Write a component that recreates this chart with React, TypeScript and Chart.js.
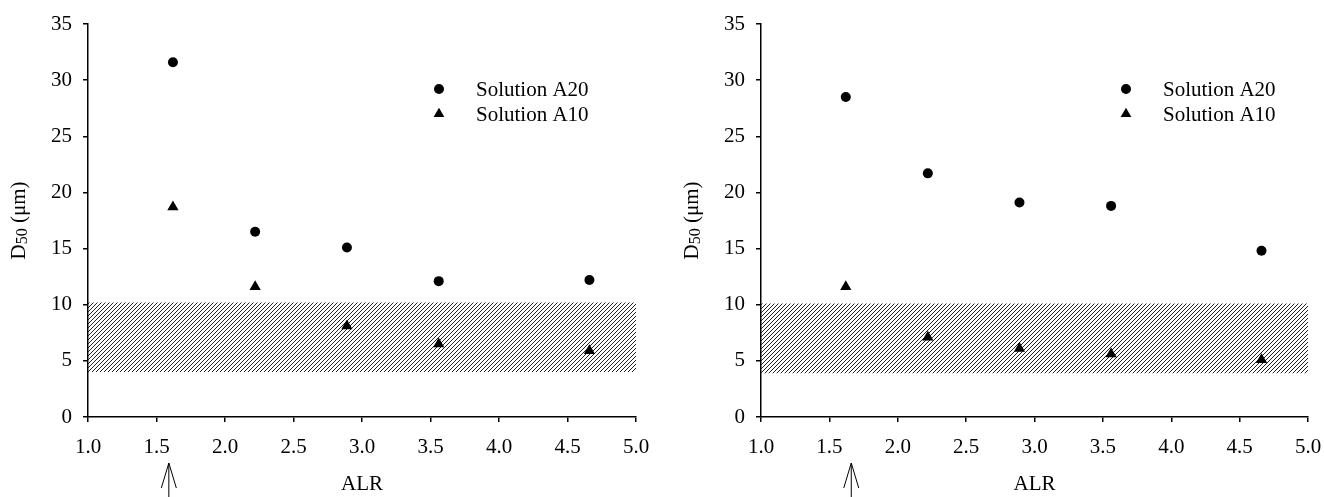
import React, { useEffect, useRef } from "react";
import { Chart, registerables } from "chart.js";

Chart.register(...registerables);

// ---- data ----
const alrValues = [1.62, 2.22, 2.89, 3.56, 4.66];
const seriesLabels = ["Solution A20", "Solution A10"];
const leftA20 = [31.6, 16.5, 15.1, 12.1, 12.2];
const leftA10 = [18.7, 11.6, 8.1, 6.5, 5.9];
const rightA20 = [28.5, 21.7, 19.1, 18.8, 14.8];
const rightA10 = [11.6, 7.1, 6.1, 5.6, 5.1];
const bandLeft = [4.0, 10.2];
const bandRight = [3.9, 10.1];
const arrowAlr = [1.59, 1.66];
const xRange = [1.0, 5.0];
const yRange = [0, 35];
const xTitle = "ALR";

const FONT = "'Liberation Serif', 'Times New Roman', serif";
const FS = 21;

function makeHatch(): CanvasPattern | string {
  const c = document.createElement("canvas");
  c.width = 4;
  c.height = 4;
  const g = c.getContext("2d");
  if (!g) return "#555";
  g.strokeStyle = "#222";
  g.lineWidth = 1;
  g.beginPath();
  g.moveTo(0, 4);
  g.lineTo(4, 0);
  g.moveTo(-1, 1);
  g.lineTo(1, -1);
  g.moveTo(3, 5);
  g.lineTo(5, 3);
  g.stroke();
  const p = g.createPattern(c, "repeat");
  return p || "#555";
}

function extrasPlugin(legendDx: number, arrowValue: number, yTitleDx: number) {
  return {
    id: "extras",
    afterDraw(chart: any) {
      const { ctx, chartArea } = chart;
      ctx.save();
      // y title with subscript
      ctx.translate(chartArea.left - yTitleDx, (chartArea.top + chartArea.bottom) / 2);
      ctx.rotate(-Math.PI / 2);
      ctx.fillStyle = "#000";
      ctx.textBaseline = "middle";
      ctx.textAlign = "left";
      const big = `${FS}px ${FONT}`;
      const small = `16px ${FONT}`;
      ctx.font = big;
      const wD = ctx.measureText("D").width;
      const wRest = ctx.measureText(" (μm)").width;
      ctx.font = small;
      const wSub = ctx.measureText("50").width;
      let x = -(wD + wSub + wRest) / 2;
      ctx.font = big;
      ctx.fillText("D", x, 0);
      x += wD;
      ctx.font = small;
      ctx.fillText("50", x, 4);
      x += wSub;
      ctx.font = big;
      ctx.fillText(" (μm)", x, 0);
      ctx.restore();

      // legend
      ctx.save();
      const lx = chartArea.left + legendDx;
      const ly0 = chartArea.top + 65;
      chart.data.datasets.forEach((ds: any) => {
        if (!ds.legendItem) return;
        const ly = ly0 + (ds.legendIndex as number) * 25;
        ctx.fillStyle = "#000";
        ctx.beginPath();
        if (ds.pointStyle === "triangle") {
          const r = 6.2;
          ctx.moveTo(lx, ly - r);
          ctx.lineTo(lx + r * 0.866, ly + r * 0.5);
          ctx.lineTo(lx - r * 0.866, ly + r * 0.5);
          ctx.closePath();
        } else {
          ctx.arc(lx, ly, 5, 0, Math.PI * 2);
        }
        ctx.fill();
        ctx.font = `${FS}px ${FONT}`;
        ctx.textBaseline = "middle";
        ctx.textAlign = "left";
        ctx.fillText(ds.label, lx + 37, ly + 1);
      });
      ctx.restore();

      // arrow under x axis
      ctx.save();
      const ax = chart.scales.x.getPixelForValue(arrowValue);
      const tipY = chart.height - 34;
      ctx.strokeStyle = "#000";
      ctx.lineWidth = 1;
      ctx.beginPath();
      ctx.moveTo(ax, tipY);
      ctx.lineTo(ax, chart.height);
      ctx.moveTo(ax - 7.5, tipY + 25);
      ctx.lineTo(ax, tipY);
      ctx.lineTo(ax + 7.5, tipY + 25);
      ctx.stroke();
      ctx.restore();
    },
  };
}

function buildConfig(a20: number[], a10: number[], band: number[], yAxisWidth: number, padRight: number) {
  const hatch = makeHatch();
  return {
    type: "scatter" as const,
    data: {
      datasets: [
        {
          label: seriesLabels[0],
          data: alrValues.map((v, i) => ({ x: v, y: a20[i] })),
          pointStyle: "circle",
          pointRadius: 5,
          backgroundColor: "#000",
          borderColor: "#000",
          borderWidth: 0,
          showLine: false,
          order: 0,
          legendItem: true,
          legendIndex: 0,
        },
        {
          label: seriesLabels[1],
          data: alrValues.map((v, i) => ({ x: v, y: a10[i] })),
          pointStyle: "triangle",
          pointRadius: 6.5,
          backgroundColor: "#000",
          borderColor: "#000",
          borderWidth: 0,
          showLine: false,
          order: 0,
          legendItem: true,
          legendIndex: 1,
        },
        {
          label: "band",
          type: "line" as const,
          data: [
            { x: xRange[0], y: band[1] },
            { x: xRange[1], y: band[1] },
          ],
          pointRadius: 0,
          borderWidth: 0,
          borderColor: "rgba(0,0,0,0)",
          backgroundColor: hatch,
          fill: { value: band[0] },
          showLine: true,
          order: 5,
        },
      ],
    },
    options: {
      responsive: false,
      animation: false as const,
      events: [],
      layout: { padding: { left: 0, right: padRight, top: 24, bottom: 0 } },
      plugins: {
        legend: { display: false },
        tooltip: { enabled: false },
        title: { display: false },
      },
      scales: {
        x: {
          type: "linear" as const,
          min: xRange[0],
          max: xRange[1],
          afterFit: (s: any) => {
            s.height = 80;
            s.paddingLeft = 0;
            s.paddingRight = 0;
          },
          ticks: {
            stepSize: 0.5,
            color: "#000",
            font: { family: FONT, size: FS },
            padding: 13,
            callback: (v: any) => Number(v).toFixed(1),
          },
          grid: {
            display: true,
            drawOnChartArea: false,
            drawTicks: true,
            tickLength: 5,
            color: "#000",
            lineWidth: 1.5,
          },
          border: { display: true, color: "#000", width: 1.5 },
          title: {
            display: true,
            text: xTitle,
            color: "#000",
            font: { family: FONT, size: FS },
            padding: { top: 0, bottom: 0 },
          },
        },
        y: {
          type: "linear" as const,
          min: yRange[0],
          max: yRange[1],
          afterFit: (s: any) => {
            s.width = yAxisWidth;
            s.paddingTop = 0;
            s.paddingBottom = 0;
          },
          ticks: {
            stepSize: 5,
            color: "#000",
            font: { family: FONT, size: FS },
            padding: 11,
          },
          grid: {
            display: true,
            drawOnChartArea: false,
            drawTicks: true,
            tickLength: 5,
            color: "#000",
            lineWidth: 1.5,
          },
          border: { display: true, color: "#000", width: 1.5 },
        },
      },
    },
  };
}

function Panel(props: { a20: number[]; a10: number[]; band: number[]; yAxisWidth: number; padRight: number; legendDx: number; arrow: number; left: number; width: number }) {
  const ref = useRef<HTMLCanvasElement | null>(null);
  useEffect(() => {
    if (!ref.current) return;
    const cfg: any = buildConfig(props.a20, props.a10, props.band, props.yAxisWidth, props.padRight);
    cfg.plugins = [extrasPlugin(props.legendDx, props.arrow, 69)];
    const chart = new Chart(ref.current, cfg);
    return () => chart.destroy();
  }, []);
  return (
    <canvas
      ref={ref}
      width={props.width}
      height={497}
      style={{ position: "absolute", left: props.left, top: 0, width: props.width, height: 497 }}
    />
  );
}

export default function App() {
  return (
    <div style={{ position: "absolute", left: 0, top: 0, width: 1324, height: 497, background: "#fff" }}>
      <Panel a20={leftA20} a10={leftA10} band={bandLeft} yAxisWidth={88} padRight={26} legendDx={351} arrow={arrowAlr[0]} left={0} width={662} />
      <Panel a20={rightA20} a10={rightA10} band={bandRight} yAxisWidth={99} padRight={16} legendDx={365} arrow={arrowAlr[1]} left={662} width={662} />
    </div>
  );
}
